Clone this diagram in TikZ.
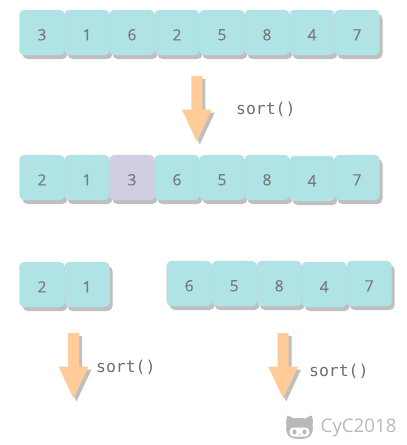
\documentclass[tikz,border=0pt]{standalone}
\usepackage{fontspec}
\setmainfont{Open Sans}[FakeBold=0.35]
\newfontfamily\monof{DejaVu Sans Mono}
\newfontfamily\markf{Open Sans}
\definecolor{cellfill}{HTML}{B0E3E6}
\definecolor{celledge}{HTML}{BFDDE0}
\definecolor{pivotfill}{HTML}{D0CEE2}
\definecolor{shadowc}{HTML}{BFBFBF}
\definecolor{digitc}{HTML}{7A7A7A}
\definecolor{arrowc}{HTML}{FFCC99}
\definecolor{labelc}{HTML}{6E6E6E}
\definecolor{markc}{HTML}{B9B9B9}
\tikzset{
  x=1pt,y=-1pt,
  shadowbox/.style={fill=shadowc,rounded corners=5pt},
  cellbox/.style={fill=cellfill,draw=celledge,line width=.4pt,rounded corners=5pt},
  pivotbox/.style={fill=pivotfill,draw=pivotfill,line width=.4pt,rounded corners=5pt},
  digit/.style={text=digitc,font=\fontsize{15.5}{17}\selectfont,inner sep=0pt},
  codetext/.style={text=labelc,font=\monof\fontsize{16.4}{18}\selectfont,inner sep=0pt,anchor=west},
}
\newcommand{\cellshadow}[2]{\fill[shadowbox] (#1+3,#2+4) rectangle ++(45,45);}
\newcommand{\cellbody}[5]{\draw[#5] (#1,#2) rectangle ++(45,45);
  \node[digit] (#4) at (#1+22.5,#2+24.8) {#3};}
\newcommand{\downarrowshape}[2]{
  \fill[shadowc,shift={(#1+3,#2+3)}] (-5.5,0) -- (5.5,0) -- (5.5,33.5) -- (15,33.5) -- (0,65.5) -- (-15,33.5) -- (-5.5,33.5) -- cycle;
  \fill[arrowc,shift={(#1,#2)}] (-5.5,0) -- (5.5,0) -- (5.5,33.5) -- (15,33.5) -- (0,65.5) -- (-15,33.5) -- (-5.5,33.5) -- cycle;
}
\begin{document}
\begin{tikzpicture}
\useasboundingbox (0,0) rectangle (407,445);
\foreach \i in {0,...,7}{\cellshadow{19.5+45*\i}{10}}
\foreach \i/\d in {0/3,1/1,2/6,3/2,4/5,5/8,6/4,7/7}{\cellbody{19.5+45*\i}{10}{\d}{a\i}{cellbox}}
\downarrowshape{196.8}{76}
\node[codetext] (s1) at (236,109) {sort()};
\foreach \i in {0,1,2,3,4,5,7}{\cellshadow{19.5+45*\i}{155}}
\cellshadow{289.5}{156}
\cellbody{19.5}{155}{2}{b0}{cellbox}
\cellbody{64.5}{155}{1}{b1}{cellbox}
\cellbody{109.5}{155}{3}{b2}{pivotbox}
\cellbody{154.5}{155}{6}{b3}{cellbox}
\cellbody{199.5}{155}{5}{b4}{cellbox}
\cellbody{244.5}{155}{8}{b5}{cellbox}
\cellbody{334.5}{155}{7}{b7}{cellbox}
\cellbody{289.5}{156}{4}{b6}{cellbox}
\cellshadow{19.5}{262}\cellshadow{64.5}{262}
\cellbody{19.5}{262}{2}{c0}{cellbox}
\cellbody{64.5}{262}{1}{c1}{cellbox}
\foreach \i in {0,1,2,4}{\cellshadow{166.7+45*\i}{261}}
\cellshadow{301.7}{262}
\foreach \i/\d in {0/6,1/5,2/8,4/7}{\cellbody{166.7+45*\i}{261}{\d}{d\i}{cellbox}}
\cellbody{301.7}{262}{4}{d3}{cellbox}
\downarrowshape{73.5}{333}
\node[codetext] (s2) at (96,367) {sort()};
\downarrowshape{283.2}{333}
\node[codetext] (s3) at (309,371) {sort()};
\begin{scope}[shift={(299.5,427)}]
 \fill[markc] (-13,-1) .. controls (-13.5,-5) and (-13.5,-9) .. (-12,-11.5)
   .. controls (-10,-11) and (-8,-10) .. (-6,-8.5)
   .. controls (-3,-9.2) and (3,-9.2) .. (6,-8.5)
   .. controls (8,-10) and (10,-11) .. (12,-11.5)
   .. controls (13.5,-9) and (13.5,-5) .. (13,-1)
   .. controls (14.5,7) and (11,12) .. (0,12)
   .. controls (-11,12) and (-14.5,7) .. (-13,-1) -- cycle;
 \fill[white,rounded corners=4pt] (-10,0.5) rectangle (10,9.5);
 \fill[markc] (-5,5) ellipse (2 and 2.6);
 \fill[markc] (5,5) ellipse (2 and 2.6);
 \fill[markc] (0,7.5) circle (.8);
\end{scope}
\node[text=markc,font=\markf\fontsize{18.7}{20}\selectfont,inner sep=0pt,anchor=west] (wm) at (320.5,428) {CyC2018};
\end{tikzpicture}
\end{document}
